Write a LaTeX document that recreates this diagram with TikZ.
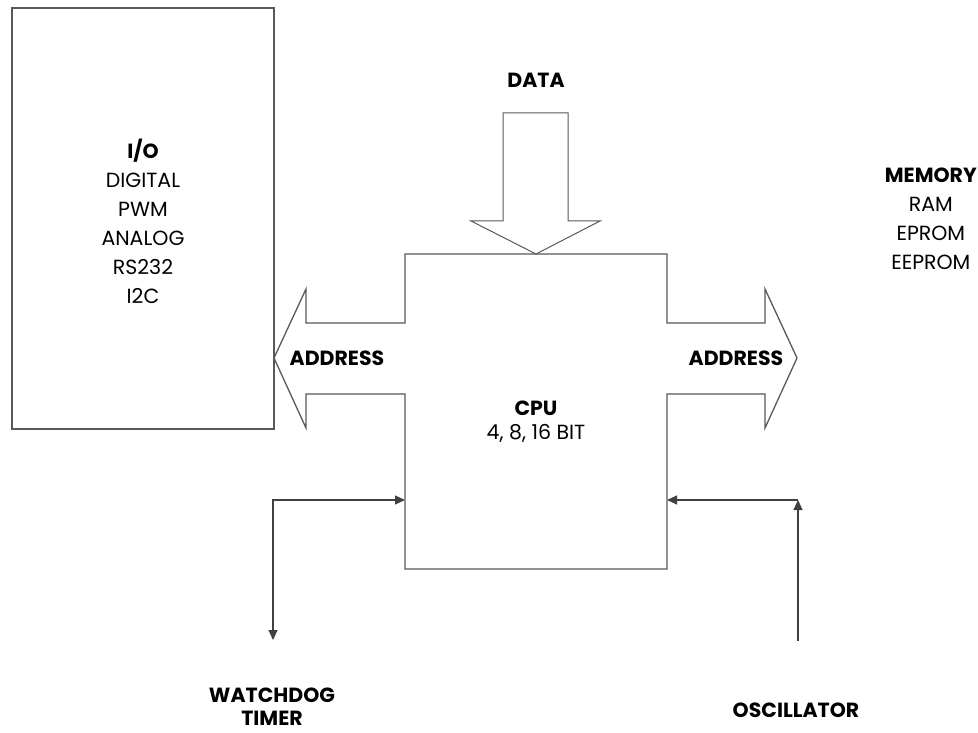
\documentclass[tikz,border=0pt]{standalone}
\usepackage{fontspec}
\setmainfont{Poppins}
\usetikzlibrary{arrows.meta}

\begin{document}
\begin{tikzpicture}[x=1pt,y=-1pt,
    outline/.style={draw=black!65, line width=1.3pt},
    lbl/.style={font=\fontsize{20.5}{29}\selectfont, align=center, inner sep=0pt},
    sig/.style={draw=black!75, line width=1.1pt},
    tip/.style={-{Triangle[length=10pt,width=9pt]}}]
    \useasboundingbox[fill=white] (0,0) rectangle (978,733);

    % I/O block
    \draw[outline] (12,8) rectangle (274,429);
    \node[lbl] (io) at (143,221) {\textbf{I/O}\\DIGITAL\\PWM\\ANALOG\\RS232\\I2C};

    % data bus arrow
    \draw[outline, line width=1pt] (503,113) -- (568,113) -- (568,221) -- (600,221)
        -- (536,254) -- (471,221) -- (503,221) -- cycle;
    \node[lbl] (data) at (536,80) {\textbf{DATA}};

    % CPU with both address buses
    \draw[outline] (405,254) -- (667,254) -- (667,323) -- (765,323) -- (765,289)
        -- (797,358) -- (765,428) -- (765,394) -- (667,394) -- (667,569)
        -- (405,569) -- (405,394) -- (306,394) -- (306,428) -- (274,358)
        -- (306,289) -- (306,323) -- (405,323) -- cycle;
    \node[lbl] (addrL) at (337,358) {\textbf{ADDRESS}};
    \node[lbl] (addrR) at (736,358) {\textbf{ADDRESS}};
    \node[lbl] (cpu) at (536,422) {\textbf{CPU}\\[-5pt]4, 8, 16 BIT};
    \coordinate (cpuW) at (405,500);
    \coordinate (cpuE) at (667,500);

    % memory
    \node[lbl, anchor=east] (mem) at (977,219) {\textbf{MEMORY}\\RAM\\EPROM\\EEPROM};

    % watchdog timer
    \coordinate (wdEnd) at (273,640);
    \node[lbl] (wdog) at (272,707) {\textbf{WATCHDOG}\\[-6pt]\textbf{TIMER}};
    \draw[sig, {Triangle[length=10pt,width=9pt]}-{Triangle[length=10pt,width=9pt]}]
        (wdEnd) |- (cpuW);

    % oscillator
    \coordinate (oscEnd) at (798,641);
    \coordinate (oscTop) at (798,500);
    \node[lbl] (osc) at (796,710) {\textbf{OSCILLATOR}};
    \draw[sig, tip] (oscEnd) -- (oscTop);
    \draw[sig, tip] (oscTop) -- (cpuE);
\end{tikzpicture}
\end{document}
